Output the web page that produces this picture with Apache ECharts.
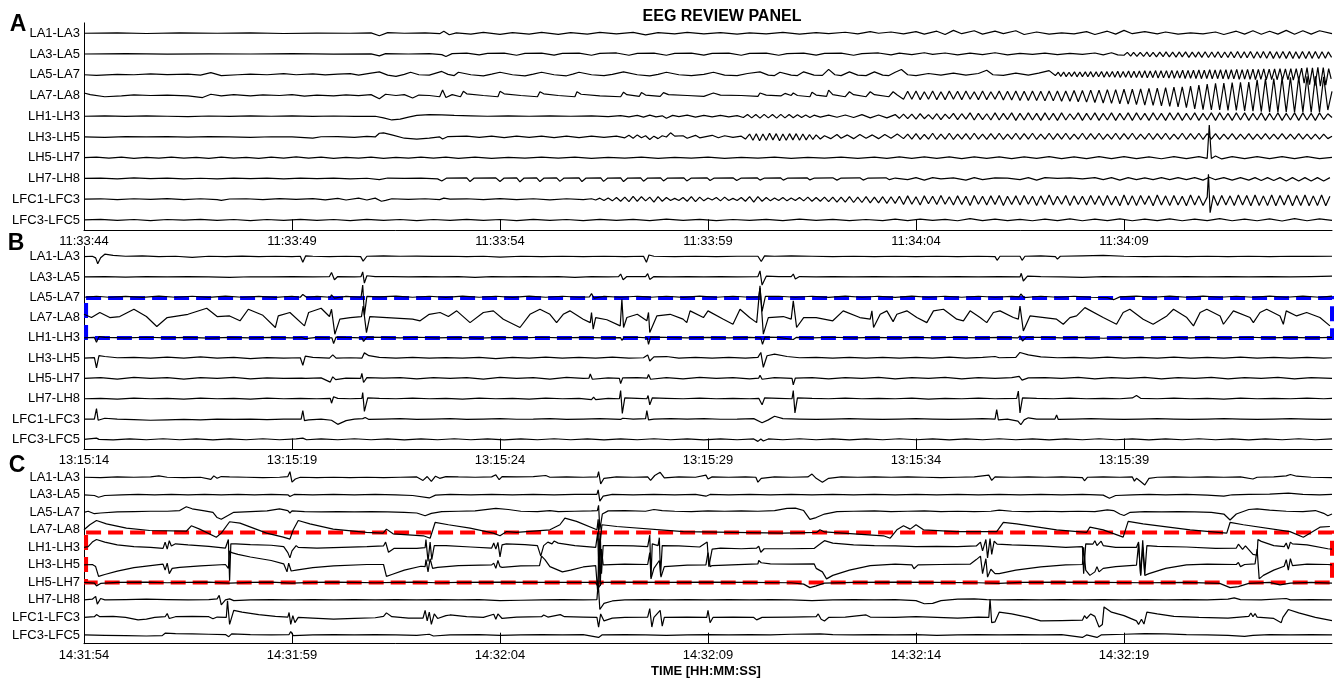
<!DOCTYPE html>
<html><head><meta charset="utf-8">
<script src="https://cdn.jsdelivr.net/npm/echarts@6/dist/echarts.min.js"></script>
<style>html,body{margin:0;padding:0;background:#fff}#c{width:1342px;height:679px}</style>
</head><body><div id="c"></div>
<script>
// ---------- labels ----------
const channels = ['LA1-LA3','LA3-LA5','LA5-LA7','LA7-LA8','LH1-LH3','LH3-LH5','LH5-LH7','LH7-LH8','LFC1-LFC3','LFC3-LFC5'];
const ticksA = ['11:33:44','11:33:49','11:33:54','11:33:59','11:34:04','11:34:09'];
const ticksB = ['13:15:14','13:15:19','13:15:24','13:15:29','13:15:34','13:15:39'];
const ticksC = ['14:31:54','14:31:59','14:32:04','14:32:09','14:32:14','14:32:19'];
const tickSeconds = [0,5,10,15,20,25];
// ---------- traces: [time s, amplitude (1/100 of channel spacing), ...] ----------
const A0 = [0,0, 0.8,2, 1.5,-1, 2.3,2, 3.2,0, 4,2, 4.8,-1, 5.6,1, 6.4,0, 6.9,2, 7.1,-12, 7.3,3, 7.7,0, 8.2,2, 8.55,-2, 8.65,10, 8.78,-7, 8.95,2, 9.3,-4, 9.6,4, 10,-5, 10.3,3, 10.7,-4, 11,4, 11.4,-5, 11.7,3, 12.1,-4, 12.4,4, 12.8,-3, 13.2,4, 13.5,-8, 13.8,3, 14.2,-3, 14.5,4, 14.9,-3, 15.3,3, 15.7,-4, 16,2, 16.4,-3, 16.8,4, 17.2,-4, 17.6,3, 17.9,-2, 18.3,5, 18.6,-3, 18.9,8, 19.1,0, 19.4,6, 19.7,-3, 20,8, 20.2,-4, 20.5,10, 20.7,-6, 20.9,14, 21.1,-2, 21.4,12, 21.6,-4, 21.9,10, 22.1,-2, 22.4,12, 22.6,-6, 22.9,6, 23.2,-4, 23.5,2, 23.8,-3, 24.1,8, 24.3,-6, 24.6,10, 24.8,-4, 25,14, 25.2,-2, 25.5,8, 25.8,-3, 26,6, 26.3,-4, 26.6,2, 26.9,-3, 27.2,6, 27.4,-6, 27.7,10, 27.9,-4, 28.1,12, 28.3,-5, 28.5,10, 28.7,-4, 28.9,14, 29.1,-5, 29.3,12, 29.5,-4, 29.7,12, 30,-2];
const A1 = [0,0, 1,2, 2,-1, 3,1, 4,0, 5,2, 6,-1, 6.9,1, 7.1,-9, 7.25,2, 7.8,0, 8.3,2, 8.6,-3, 8.7,-12, 8.85,2, 9.2,4, 9.5,-4, 9.7,3, 10.1,4, 10.4,-6, 10.6,3, 11,4, 11.3,-5, 11.5,3, 11.9,4, 12.2,-6, 12.4,3, 12.8,5, 13.1,-6, 13.3,3, 13.7,4, 14,-6, 14.2,3, 14.6,4, 14.9,-5, 15.1,3, 15.5,4, 15.8,-6, 16,3, 16.4,4, 16.7,-6, 16.9,2, 17.3,4, 17.6,-5, 17.8,3, 18.2,4, 18.5,-6, 18.7,2, 19.1,5, 19.4,-4, 19.6,4, 19.9,-3, 20.2,6, 20.4,-2, 20.7,5, 21,-4, 21.3,4, 21.6,-3, 21.9,6, 22.2,-4, 22.5,3, 22.8,-2, 23.1,4, 23.4,-3, 23.7,3, 24,-2, 24.3,5, 24.5,-4, 24.7,6, 24.85,-4, 25,-6, 25.08,8, 25.16,-10, 25.23,8, 25.31,-12, 25.39,8, 25.47,-12, 25.55,9, 25.62,-13, 25.7,8, 25.78,-14, 25.86,9, 25.94,-13, 26.01,10, 26.09,-14, 26.17,9, 26.25,-15, 26.33,10, 26.4,-14, 26.48,10, 26.56,-16, 26.64,9, 26.72,-15, 26.79,10, 26.87,-16, 26.95,11, 27.03,-17, 27.11,10, 27.18,-16, 27.26,11, 27.34,-18, 27.42,10, 27.5,-17, 27.57,11, 27.65,-18, 27.73,12, 27.81,-19, 27.89,11, 27.96,-18, 28.04,12, 28.12,-20, 28.2,11, 28.28,-19, 28.35,12, 28.43,-20, 28.51,12, 28.59,-21, 28.67,11, 28.74,-20, 28.82,12, 28.9,-21, 28.98,12, 29.06,-22, 29.13,11, 29.21,-21, 29.29,12, 29.37,-22, 29.45,12, 29.52,-21, 29.6,12, 29.68,-22, 29.76,11, 29.84,-20, 29.91,10, 29.99,-16];
const A2 = [0,0, 0.3,-3, 0.8,2, 1.2,0, 1.6,4, 2,1, 2.5,3, 2.8,-2, 3.05,10, 3.3,-4, 3.7,0, 4,3, 4.4,0, 4.8,5, 5.1,0, 5.5,4, 5.8,-1, 6.1,3, 6.4,5, 6.6,-2, 6.9,8, 7.1,14, 7.3,-2, 7.5,-8, 7.7,2, 7.85,12, 8.05,0, 8.3,-2, 8.6,16, 8.75,2, 8.9,-4, 9,12, 9.3,0, 9.6,-5, 9.8,3, 10,12, 10.3,0, 10.6,-5, 10.8,3, 11,12, 11.3,0, 11.6,-5, 11.75,3, 11.9,12, 12.2,0, 12.5,-4, 12.7,2, 12.97,14, 13.3,0, 13.6,-5, 13.8,2, 14,12, 14.3,0, 14.6,-4, 14.9,2, 15.13,12, 15.4,-2, 15.7,-4, 15.95,6, 16.25,14, 16.45,-2, 16.6,-4, 16.73,12, 17,-2, 17.15,-4, 17.3,14, 17.55,-2, 17.75,-3, 17.9,26, 18.05,0, 18.2,-4, 18.4,14, 18.6,-2, 18.8,-4, 19,14, 19.2,-2, 19.35,-4, 19.5,12, 19.65,25, 19.8,0, 20,-4, 20.3,6, 20.6,-2, 20.9,8, 21.2,-2, 21.5,6, 21.7,22, 21.85,0, 22.1,-3, 22.4,8, 22.7,-2, 22.95,8, 23.2,20, 23.35,-4, 23.42,12, 23.48,-8, 23.55,13, 23.61,-9, 23.68,12, 23.74,-8, 23.81,14, 23.87,-10, 23.94,13, 24,-9, 24.07,14, 24.13,-10, 24.2,15, 24.26,-11, 24.33,14, 24.39,-10, 24.46,16, 24.52,-12, 24.59,15, 24.65,-11, 24.72,16, 24.78,-12, 24.85,17, 24.91,-13, 24.98,16, 25.04,-12, 25.11,18, 25.17,-14, 25.24,17, 25.3,-13, 25.37,18, 25.43,-14, 25.5,19, 25.56,-15, 25.63,18, 25.69,-14, 25.76,20, 25.82,-16, 25.89,19, 25.95,-15, 26.02,20, 26.08,-16, 26.15,21, 26.21,-17, 26.28,20, 26.34,-16, 26.41,22, 26.47,-18, 26.54,21, 26.6,-17, 26.67,22, 26.73,-18, 26.8,23, 26.86,-19, 26.93,22, 26.99,-18, 27.06,24, 27.12,-20, 27.19,23, 27.25,-19, 27.32,24, 27.38,-20, 27.45,25, 27.51,-21, 27.58,24, 27.64,-20, 27.71,26, 27.77,-22, 27.84,25, 27.9,-21, 27.97,26, 28.03,-22, 28.1,27, 28.16,-23, 28.23,26, 28.29,-22, 28.36,28, 28.42,-24, 28.49,27, 28.55,-23, 28.62,28, 28.68,-24, 28.75,29, 28.81,-25, 28.88,28, 28.94,-24, 29.01,30, 29.07,-26, 29.14,29, 29.2,-25, 29.27,32, 29.33,-40, 29.4,34, 29.46,-48, 29.53,33, 29.59,-52, 29.66,36, 29.72,-55, 29.79,34, 29.85,-50, 29.92,30, 29.98,-20];
const A3 = [0,12, 0.15,4, 0.5,-6, 0.9,-2, 1.2,3, 1.6,0, 2,2, 2.5,-2, 2.85,-10, 3.05,6, 3.3,-2, 3.6,4, 4,-2, 4.3,3, 4.7,0, 5,4, 5.3,-3, 5.6,2, 6,-2, 6.3,3, 6.6,-1, 6.9,4, 7.1,-16, 7.25,6, 7.5,0, 7.7,4, 7.9,-12, 8.05,2, 8.3,0, 8.55,-6, 8.62,26, 8.7,-10, 8.85,4, 9.05,-6, 9.12,20, 9.2,8, 9.6,0, 9.95,-6, 10,20, 10.1,8, 10.5,0, 10.9,-6, 10.96,18, 11.05,8, 11.4,0, 11.8,-6, 11.85,18, 11.95,6, 12.4,-2, 12.9,-6, 12.97,16, 13.05,4, 13.35,-4, 13.4,14, 13.5,2, 13.85,-4, 13.93,14, 14.05,4, 14.5,0, 14.9,-4, 15.13,12, 15.3,2, 15.8,0, 16.2,-4, 16.25,12, 16.4,2, 16.75,-2, 16.85,10, 17,0, 17.05,12, 17.15,0, 17.45,-6, 17.5,16, 17.6,2, 17.85,-4, 17.9,26, 18,4, 18.3,-6, 18.4,18, 18.5,4, 18.8,-6, 18.9,18, 19,4, 19.35,-6, 19.45,18, 19.55,2, 19.7,-18, 19.8,20, 19.9,-18, 20,22, 20.1,-20, 20.2,18, 20.3,-18, 20.4,22, 20.5,-20, 20.6,18, 20.7,-20, 20.8,22, 20.9,-18, 21,20, 21.1,-20, 21.2,22, 21.3,-18, 21.4,18, 21.5,-20, 21.6,22, 21.7,-20, 21.8,18, 21.9,-18, 22,22, 22.1,-22, 22.2,20, 22.3,-22, 22.4,22, 22.5,-24, 22.6,20, 22.7,-24, 22.8,22, 22.9,-24, 23,20, 23.1,-26, 23.2,22, 23.3,-26, 23.4,22, 23.5,-28, 23.6,22, 23.7,-28, 23.8,24, 23.9,-30, 24,24, 24.1,-32, 24.2,26, 24.3,-34, 24.4,26, 24.5,-36, 24.6,28, 24.7,-38, 24.8,28, 24.9,-40, 25,30, 25.1,-42, 25.2,30, 25.3,-44, 25.4,32, 25.5,-46, 25.6,34, 25.7,-48, 25.8,36, 25.9,-50, 26,38, 26.1,-52, 26.2,40, 26.3,-55, 26.4,42, 26.5,-58, 26.6,45, 26.7,-65, 26.8,50, 26.9,-68, 27,55, 27.1,-70, 27.2,58, 27.3,-70, 27.4,60, 27.5,-72, 27.6,62, 27.7,-72, 27.8,64, 27.9,-74, 28,65, 28.1,-76, 28.2,75, 28.3,-78, 28.4,80, 28.5,-80, 28.6,82, 28.7,-80, 28.8,85, 28.9,-80, 29,88, 29.1,-82, 29.2,90, 29.3,-80, 29.4,92, 29.5,-82, 29.6,92, 29.7,-80, 29.8,90, 29.9,-70, 30,20];
const A4 = [0,0, 0.5,2, 1,-1, 1.5,2, 2,0, 2.5,-2, 3,1, 3.5,-1, 4,2, 4.5,0, 5,2, 5.5,-1, 6,1, 6.5,-1, 7,0, 7.2,-8, 7.4,-18, 7.6,-14, 7.8,-4, 8,4, 8.3,8, 8.6,7, 8.9,4, 9.3,2, 9.7,0, 10.2,2, 10.7,0, 11.2,2, 11.7,0, 12.2,2, 12.6,-2, 12.9,3, 13.1,-3, 13.3,4, 13.45,-4, 13.6,5, 13.75,-3, 13.9,2, 14,-10, 14.15,4, 14.3,-2, 14.5,5, 14.7,-4, 14.9,4, 15.1,-3, 15.3,4, 15.5,-3, 15.7,3, 15.85,-6, 15.95,8, 16.05,-8, 16.15,8, 16.25,-9, 16.35,9, 16.45,-8, 16.55,8, 16.65,-9, 16.75,9, 16.85,-8, 16.95,8, 17.05,-7, 17.15,7, 17.25,-6, 17.35,6, 17.45,-6, 17.55,5, 17.7,-4, 17.9,5, 18.1,-5, 18.3,6, 18.5,-6, 18.7,8, 18.9,-8, 19.1,6, 19.3,-8, 19.5,8, 19.6,-10, 19.7,10, 19.8,-12, 19.9,10, 20,-14, 20.1,12, 20.2,-12, 20.3,8, 20.4,-14, 20.5,12, 20.6,-16, 20.7,10, 20.8,-12, 20.9,14, 21,-16, 21.1,12, 21.2,-14, 21.3,16, 21.4,-18, 21.5,14, 21.6,-16, 21.7,12, 21.8,-18, 21.9,16, 22,-18, 22.1,14, 22.2,-16, 22.3,16, 22.4,-20, 22.5,14, 22.6,-18, 22.7,16, 22.8,-18, 22.9,14, 23,-20, 23.1,16, 23.2,-18, 23.3,14, 23.4,-20, 23.5,16, 23.6,-18, 23.7,12, 23.8,-16, 23.9,16, 24,-20, 24.1,14, 24.2,-18, 24.3,16, 24.4,-20, 24.5,14, 24.6,-18, 24.7,16, 24.8,-20, 24.9,14, 25,-18, 25.1,16, 25.2,-20, 25.3,16, 25.4,-18, 25.5,14, 25.6,-20, 25.7,16, 25.8,-18, 25.9,14, 26,-20, 26.1,16, 26.2,-18, 26.3,16, 26.4,-20, 26.5,14, 26.6,-18, 26.7,16, 26.8,-20, 26.9,14, 27,-18, 27.1,16, 27.2,-20, 27.3,16, 27.4,-18, 27.5,14, 27.6,-20, 27.7,16, 27.8,-18, 27.9,16, 28,-20, 28.1,14, 28.2,-18, 28.3,16, 28.4,-20, 28.5,14, 28.6,-18, 28.7,16, 28.8,-20, 28.9,14, 29,-18, 29.1,16, 29.2,-20, 29.3,16, 29.4,-18, 29.5,14, 29.6,-20, 29.7,16, 29.8,-16, 29.9,12, 30,-6];
const A5 = [0,0, 0.5,-2, 1,2, 1.5,0, 2,2, 2.5,-1, 3,2, 3.5,0, 4,-2, 4.5,1, 5,0, 5.5,-6, 5.7,1, 6.1,2, 6.5,-2, 6.8,3, 7,0, 7.1,18, 7.2,20, 7.4,10, 7.7,-6, 8,-10, 8.3,-6, 8.55,0, 8.62,-10, 8.75,2, 9.2,4, 9.5,-2, 9.8,4, 10.1,-3, 10.4,4, 10.7,-2, 11,4, 11.3,-3, 11.6,4, 11.9,-3, 12.2,4, 12.5,-2, 12.8,4, 13,-4, 13.1,8, 13.2,-6, 13.3,10, 13.4,-4, 13.5,6, 13.6,-12, 13.7,4, 13.8,-8, 13.9,6, 14,0, 14.1,20, 14.2,4, 14.4,6, 14.5,-6, 14.7,8, 14.8,-4, 14.95,2, 15.1,8, 15.25,-4, 15.4,6, 15.6,-2, 15.8,4, 15.9,-10, 16,14, 16.08,-16, 16.16,16, 16.24,-18, 16.32,14, 16.4,-16, 16.48,18, 16.56,-14, 16.64,16, 16.72,-18, 16.8,14, 16.88,-16, 16.96,16, 17.04,-14, 17.12,16, 17.2,-16, 17.28,14, 17.36,-14, 17.44,12, 17.52,-12, 17.6,10, 17.7,-10, 17.8,6, 17.95,-8, 18.1,12, 18.2,-6, 18.35,10, 18.5,-8, 18.65,12, 18.8,-6, 18.95,10, 19.1,-8, 19.25,12, 19.4,-6, 19.55,14, 19.7,-8, 19.8,14, 19.9,-10, 20,16, 20.1,-12, 20.2,12, 20.3,-10, 20.4,18, 20.5,-12, 20.6,14, 20.7,-10, 20.8,18, 20.9,-12, 21,14, 21.1,-10, 21.2,16, 21.3,-12, 21.4,18, 21.5,-10, 21.6,14, 21.7,-12, 21.8,16, 21.9,-10, 22,18, 22.1,-12, 22.2,14, 22.3,-10, 22.4,18, 22.5,-12, 22.6,16, 22.7,-10, 22.8,18, 22.9,-12, 23,14, 23.1,-10, 23.2,18, 23.3,-12, 23.4,16, 23.5,-10, 23.6,18, 23.7,-12, 23.8,14, 23.9,-10, 24,18, 24.1,-12, 24.2,16, 24.3,-10, 24.4,18, 24.5,-12, 24.6,14, 24.7,-10, 24.8,18, 24.9,-12, 25,16, 25.1,-10, 25.2,18, 25.3,-12, 25.4,14, 25.5,-10, 25.6,18, 25.7,-12, 25.8,16, 25.9,-10, 26,18, 26.1,-12, 26.2,14, 26.3,-10, 26.4,18, 26.5,-12, 26.6,16, 26.7,-10, 26.8,18, 26.9,-12, 27,16, 27.1,-10, 27.2,16, 27.3,-12, 27.4,14, 27.5,-10, 27.6,16, 27.7,-12, 27.8,14, 27.9,-10, 28,16, 28.1,-12, 28.2,14, 28.3,-10, 28.4,16, 28.5,-10, 28.6,14, 28.7,-10, 28.8,16, 28.9,-10, 29,14, 29.1,-10, 29.2,16, 29.3,-10, 29.4,14, 29.5,-10, 29.6,14, 29.7,-10, 29.8,14, 29.9,-8, 30,4];
const A6 = [0,0, 0.3,3, 0.6,-2, 0.9,3, 1.2,-3, 1.5,2, 1.8,-2, 2.1,3, 2.4,-2, 2.7,2, 3,-3, 3.3,3, 3.6,-2, 3.9,2, 4.2,-3, 4.5,3, 4.8,-2, 5.1,4, 5.4,-2, 5.7,3, 6,-3, 6.3,2, 6.6,-2, 6.9,3, 7.2,-3, 7.5,2, 7.8,-2, 8.1,3, 8.4,-2, 8.7,3, 9,-3, 9.4,3, 9.8,-3, 10.2,2, 10.6,-2, 11,3, 11.4,-2, 11.8,3, 12.2,-3, 12.6,2, 13,-2, 13.4,3, 13.8,-3, 14.2,2, 14.6,-2, 15,3, 15.4,-3, 15.8,2, 16.2,-2, 16.6,3, 17,-3, 17.4,2, 17.8,-2, 18.2,3, 18.6,-3, 19,3, 19.3,-3, 19.6,4, 19.9,-3, 20.2,4, 20.5,-3, 20.8,4, 21.1,-4, 21.4,4, 21.7,-3, 22,4, 22.3,-4, 22.6,4, 22.9,-3, 23.2,5, 23.5,-4, 23.8,4, 24.1,-4, 24.4,5, 24.7,-4, 25,5, 25.3,-4, 25.6,4, 25.9,-5, 26.2,5, 26.5,-4, 26.8,5, 27,-3, 27.05,158, 27.1,-4, 27.2,8, 27.35,-6, 27.6,5, 27.9,-4, 28.2,5, 28.5,-4, 28.8,5, 29.1,-4, 29.4,5, 29.7,-4, 30,2];
const A7 = [0,0, 0.4,2, 0.8,-2, 1.2,3, 1.6,-1, 2,2, 2.4,-2, 2.8,1, 3.2,-2, 3.6,2, 4,-1, 4.4,2, 4.8,-2, 5.2,2, 5.6,-1, 6,2, 6.4,-2, 6.8,1, 7.1,-6, 7.3,2, 7.7,0, 8.1,2, 8.5,-2, 8.6,-12, 8.72,2, 9.2,3, 9.28,-15, 9.38,2, 9.9,3, 10,-15, 10.1,2, 10.4,3, 10.48,-16, 10.58,2, 10.88,3, 10.96,-15, 11.06,2, 11.36,3, 11.44,-14, 11.54,2, 11.9,3, 11.97,-15, 12.07,2, 12.42,3, 12.49,-14, 12.59,2, 12.9,3, 12.97,-15, 13.07,2, 13.38,3, 13.45,-13, 13.55,2, 13.86,3, 13.93,-12, 14.03,2, 14.42,3, 14.49,-12, 14.6,2, 14.98,3, 15.05,-10, 15.15,2, 15.6,3, 15.69,-10, 15.8,2, 16.18,3, 16.25,-8, 16.36,2, 16.74,3, 16.81,-8, 16.92,2, 17.38,3, 17.45,-7, 17.56,2, 18,3, 18.1,-8, 18.2,2, 18.65,3, 18.73,-8, 18.85,2, 19.28,3, 19.36,-6, 19.5,2, 19.8,-6, 20,4, 20.2,-8, 20.4,4, 20.6,-2, 20.9,3, 21.2,-8, 21.4,4, 21.6,-6, 21.9,3, 22.2,2, 22.5,-6, 22.7,4, 22.9,-8, 23.1,4, 23.4,0, 23.7,3, 24,-2, 24.3,4, 24.5,-6, 24.7,4, 24.9,-8, 25.1,4, 25.3,-6, 25.5,3, 25.7,-6, 25.9,4, 26.1,-6, 26.3,4, 26.5,-6, 26.7,4, 26.9,-8, 27.05,6, 27.2,-6, 27.4,4, 27.6,-8, 27.8,4, 28,-8, 28.15,4, 28.3,-10, 28.45,4, 28.6,-10, 28.75,4, 28.9,-12, 29.05,4, 29.2,-12, 29.35,4, 29.5,-12, 29.65,4, 29.8,-12, 29.95,4];
const A8 = [0,0, 0.4,2, 0.8,-2, 1.2,2, 1.6,-1, 2,3, 2.4,-2, 2.8,2, 3.2,-2, 3.3,-6, 3.5,1, 3.9,2, 4.3,-2, 4.7,3, 5.1,-1, 5.5,3, 5.8,-3, 6.1,4, 6.3,-4, 6.6,5, 6.8,-4, 7,5, 7.15,-10, 7.25,-6, 7.4,2, 7.8,-1, 8.2,2, 8.55,-2, 8.65,5, 8.8,0, 9.2,2, 9.6,-2, 10,3, 10.4,-2, 10.8,2, 11.2,-3, 11.6,2, 12,-2, 12.2,2, 12.3,-4, 12.4,5, 12.5,-6, 12.6,6, 12.7,-8, 12.8,8, 12.9,-10, 13,10, 13.1,-12, 13.2,14, 13.3,-10, 13.4,12, 13.5,-8, 13.6,10, 13.7,-14, 13.8,12, 13.9,-10, 14,8, 14.1,-6, 14.2,4, 14.3,-6, 14.4,8, 14.5,-10, 14.6,12, 14.7,-12, 14.8,10, 14.9,-8, 15,6, 15.1,-4, 15.2,8, 15.3,-8, 15.4,10, 15.5,-6, 15.6,4, 15.7,-6, 15.8,8, 15.9,-10, 16,12, 16.1,-14, 16.2,12, 16.3,-10, 16.4,8, 16.5,-8, 16.6,6, 16.7,-6, 16.8,8, 16.9,-8, 17,6, 17.1,-6, 17.2,8, 17.3,-8, 17.4,10, 17.5,-10, 17.6,8, 17.7,-10, 17.8,10, 17.9,-12, 18,10, 18.1,-14, 18.2,10, 18.3,-14, 18.4,12, 18.5,-16, 18.6,10, 18.7,-16, 18.8,12, 18.9,-18, 19,10, 19.1,-18, 19.2,12, 19.3,-20, 19.4,12, 19.5,-20, 19.6,14, 19.7,-26, 19.8,16, 19.9,-24, 20,12, 20.1,-28, 20.2,16, 20.3,-22, 20.4,14, 20.5,-26, 20.6,18, 20.7,-24, 20.8,12, 20.9,-28, 21,16, 21.1,-26, 21.2,14, 21.3,-30, 21.4,18, 21.5,-24, 21.6,14, 21.7,-28, 21.8,16, 21.9,-26, 22,18, 22.1,-30, 22.2,14, 22.3,-26, 22.4,16, 22.5,-28, 22.6,18, 22.7,-24, 22.8,14, 22.9,-30, 23,16, 23.1,-26, 23.2,20, 23.3,-28, 23.4,14, 23.5,-24, 23.6,18, 23.7,-30, 23.8,16, 23.9,-26, 24,14, 24.1,-28, 24.2,18, 24.3,-26, 24.4,16, 24.5,-30, 24.6,18, 24.7,-28, 24.8,14, 24.9,-32, 25,20, 25.1,-28, 25.2,16, 25.3,-30, 25.4,18, 25.5,-26, 25.6,16, 25.7,-32, 25.8,20, 25.9,-28, 26,16, 26.1,-30, 26.2,18, 26.3,-28, 26.4,14, 26.5,-32, 26.6,20, 26.7,-28, 26.8,16, 26.9,-30, 27,10, 27.03,120, 27.07,-65, 27.15,18, 27.25,-30, 27.35,18, 27.45,-28, 27.55,16, 27.65,-30, 27.75,20, 27.85,-28, 27.95,18, 28.05,-32, 28.15,20, 28.25,-30, 28.35,16, 28.45,-30, 28.55,20, 28.65,-32, 28.75,18, 28.85,-28, 28.95,20, 29.05,-32, 29.15,18, 29.25,-30, 29.35,20, 29.45,-32, 29.55,16, 29.65,-30, 29.75,20, 29.85,-32, 29.95,14];
const A9 = [0,0, 0.4,3, 0.8,-2, 1.2,2, 1.6,-3, 2,2, 2.4,-1, 2.8,3, 3.2,-2, 3.6,2, 4,-3, 4.4,2, 4.8,-2, 5.2,3, 5.6,-2, 6,2, 6.4,-3, 6.8,3, 7.2,-2, 7.6,2, 8,-3, 8.4,2, 8.8,-2, 9.2,3, 9.6,-2, 10,2, 10.4,-3, 10.8,3, 11.2,-2, 11.6,2, 12,-3, 12.4,3, 12.8,-2, 13.2,3, 13.6,-3, 14,4, 14.4,-2, 14.8,3, 15.2,-3, 15.6,2, 16,-2, 16.4,3, 16.8,-3, 17.2,4, 17.6,-2, 18,3, 18.4,-3, 18.8,2, 19.2,-3, 19.5,4, 19.8,-3, 20.1,4, 20.4,-2, 20.7,3, 21,-4, 21.3,6, 21.6,-3, 21.9,4, 22.2,-3, 22.5,3, 22.8,-4, 23.1,4, 23.4,-3, 23.7,5, 24,-4, 24.3,4, 24.6,-3, 24.9,5, 25.2,-4, 25.5,4, 25.8,-3, 26.1,5, 26.4,-4, 26.7,4, 27,-3, 27.3,6, 27.6,-4, 27.9,4, 28.2,-4, 28.5,5, 28.8,-5, 29.1,6, 29.4,-4, 29.7,5, 30,-2];

const B0 = [0,0, 0.2,2, 0.28,-6, 0.33,-35, 0.4,-5, 0.5,12, 0.7,6, 1,2, 1.4,4, 1.8,0, 2.2,2, 2.6,-4, 3,2, 3.4,0, 3.8,3, 4.2,0, 4.6,2, 5,0, 5.2,2, 5.26,-28, 5.33,4, 5.5,2, 5.9,0, 6.3,2, 6.65,0, 6.71,-22, 6.8,2, 7.2,4, 7.6,2, 8,3, 8.4,1, 8.8,2, 9.2,0, 9.6,2, 10,-2, 10.5,2, 11,0, 11.5,2, 12,0, 12.5,2, 13,0, 13.45,2, 13.52,-28, 13.58,8, 13.7,2, 14.2,0, 14.7,2, 15.2,0, 15.7,2, 16.2,2, 16.28,-24, 16.36,4, 16.6,2, 17,4, 17.5,2, 18,0, 18.5,2, 19,0, 19.5,2, 20,0, 20.5,2, 21,0, 21.5,2, 21.9,0, 21.95,-18, 22.02,2, 22.5,2, 22.55,-18, 22.62,2, 23,4, 23.35,0, 23.4,-12, 23.47,2, 24,4, 24.5,6, 25,2, 25.5,0, 26,2, 26.5,0, 27,2, 27.5,0, 28,2, 28.5,0, 29,2, 29.5,1, 30,2];
const B1 = [0,0, 0.5,2, 1,-1, 1.5,2, 2,0, 2.5,2, 3,0, 3.5,-2, 4,1, 4.5,0, 5,2, 5.5,0, 5.9,2, 5.95,22, 6.02,-14, 6.1,2, 6.5,0, 6.66,2, 6.7,25, 6.74,-30, 6.8,6, 7,2, 7.4,2, 7.8,0, 8.2,2, 8.6,0, 9,2, 9.4,-2, 9.8,2, 10.2,0, 10.6,2, 11,0, 11.4,2, 11.8,-2, 12.2,2, 12.6,0, 12.85,2, 12.9,14, 12.96,-14, 13.05,2, 13.5,2, 13.55,16, 13.6,-12, 13.7,2, 14.1,0, 14.5,2, 14.9,0, 15.3,2, 15.7,0, 16.2,2, 16.25,30, 16.3,-40, 16.4,4, 16.7,2, 17,2, 17.05,14, 17.1,-10, 17.2,2, 17.6,0, 18,2, 18.5,0, 19,2, 19.5,0, 20,2, 20.5,0, 21,2, 21.5,0, 22,2, 22.5,0, 22.53,18, 22.58,-20, 22.68,4, 23,2, 23.5,0, 24,-2, 24.5,2, 25,0, 25.5,2, 26,0, 26.5,2, 27,0, 27.5,2, 28,0, 28.5,2, 29,0, 29.5,2, 30,4];
const B2 = [0,0, 0.3,5, 0.6,0, 1,4, 1.4,-1, 1.8,6, 2.2,0, 2.6,5, 3,-1, 3.4,6, 3.8,0, 4.2,4, 4.6,-1, 5,5, 5.2,0, 5.26,14, 5.35,0, 5.6,4, 5.92,0, 5.95,12, 6.02,-4, 6.3,4, 6.66,0, 6.7,60, 6.74,-90, 6.8,4, 7.1,2, 7.5,6, 7.9,0, 8.3,5, 8.7,-1, 9.1,6, 9.5,0, 9.9,5, 10.3,-1, 10.7,6, 11.1,0, 11.5,5, 11.9,0, 12.15,2, 12.2,18, 12.26,-4, 12.5,4, 12.9,0, 13.3,5, 13.55,2, 13.57,10, 13.62,0, 14,5, 14.4,-1, 14.8,6, 15.2,0, 15.6,5, 16,0, 16.22,2, 16.25,45, 16.3,-70, 16.38,4, 16.7,5, 17.1,0, 17.5,5, 17.9,-1, 18.3,6, 18.7,0, 19.1,5, 19.5,-1, 19.9,6, 20.3,0, 20.7,5, 21.1,0, 21.5,5, 21.9,0, 22.3,4, 22.48,2, 22.52,16, 22.6,-2, 23,5, 23.4,0, 23.8,5, 24.2,0, 24.6,-2, 24.75,-12, 24.9,2, 25.3,6, 25.7,0, 26.1,6, 26.5,0, 26.9,6, 27.3,0, 27.7,5, 28.1,0, 28.5,6, 28.9,0, 29.3,6, 29.7,0, 30,6];
const B3 = [0,16, 0.18,0, 0.38,25, 0.62,0, 0.86,5, 1.2,41, 1.5,5, 1.75,-44, 2,0, 2.5,16, 2.95,46, 3.2,5, 3.5,8, 3.75,-16, 3.95,41, 4.3,11, 4.6,-49, 4.67,8, 4.95,25, 5.3,-41, 5.4,25, 5.7,46, 5.9,5, 5.95,41, 6.03,-82, 6.15,-8, 6.4,0, 6.67,5, 6.71,57, 6.79,-74, 6.87,5, 7.9,-8, 8.08,-16, 8.3,16, 8.56,25, 8.76,5, 8.96,33, 9.28,-25, 9.6,25, 9.84,33, 10.08,-8, 10.48,-49, 10.72,16, 10.96,41, 11.2,16, 11.36,-25, 11.52,16, 11.68,33, 12,-8, 12.17,-25, 12.2,25, 12.24,-57, 12.3,0, 12.57,-11, 12.89,-41, 12.93,90, 12.97,-49, 13.05,0, 13.3,16, 13.53,-16, 13.57,25, 13.6,-74, 13.77,8, 14.09,16, 14.4,-8, 14.49,-25, 14.57,33, 14.89,0, 15,33, 15.37,-8, 15.6,-33, 15.77,41, 16,0, 16.17,-25, 16.25,156, 16.33,-82, 16.45,0, 16.81,5, 17,-8, 17.05,82, 17.13,-49, 17.3,0, 17.6,0, 18,-16, 18.25,33, 18.65,0, 18.9,-8, 18.94,33, 18.98,-49, 19.14,16, 19.3,33, 19.45,-20, 19.54,16, 19.78,33, 20.02,0, 20.26,-25, 20.42,33, 20.66,41, 20.98,-8, 21.14,-16, 21.3,33, 21.54,0, 21.7,-25, 21.86,25, 22.02,33, 22.34,0, 22.46,-8, 22.5,57, 22.58,-66, 22.74,8, 23.38,-8, 23.54,-33, 23.7,0, 23.86,8, 24.06,49, 24.5,0, 24.82,-33, 24.98,25, 25.14,41, 25.46,-8, 25.7,-33, 26.03,8, 26.19,41, 26.51,0, 26.67,-41, 26.83,25, 26.99,41, 27.31,8, 27.39,-33, 27.63,33, 28.03,0, 28.11,-25, 28.27,25, 28.43,41, 28.75,8, 28.83,-33, 28.9,33, 29.15,8, 29.39,25, 29.71,0, 29.95,-41];
const B4 = [0,0, 0.25,2, 0.3,-22, 0.36,6, 0.5,2, 1,0, 1.5,3, 2,0, 2.5,2, 3,-1, 3.5,2, 4,0, 4.5,2, 5,0, 5.23,2, 5.27,10, 5.32,-4, 5.6,2, 5.96,0, 6,-28, 6.06,4, 6.3,2, 6.68,0, 6.72,-18, 6.8,4, 7.2,2, 7.6,0, 8,3, 8.5,0, 9,2, 9.5,-1, 10,2, 10.5,0, 11,3, 11.5,0, 12,2, 12.5,0, 12.9,1, 12.93,-12, 12.98,2, 13.3,3, 13.54,0, 13.57,-32, 13.62,4, 14,2, 14.5,0, 15,2, 15.5,0, 16,2, 16.27,0, 16.31,-32, 16.37,4, 16.7,2, 17.05,-8, 17.12,2, 17.5,0, 18,3, 18.5,0, 19,2, 19.5,0, 20,2, 20.5,0, 21,3, 21.5,0, 22,2, 22.45,0, 22.5,10, 22.56,-16, 22.65,2, 23,3, 23.5,0, 24,2, 24.5,-2, 25,2, 25.5,0, 26,3, 26.5,0, 27,2, 27.5,0, 28,3, 28.5,0, 29,2, 29.5,0, 30,2];
const B5 = [0,0, 0.25,3, 0.3,-48, 0.36,12, 0.5,8, 0.8,2, 1.2,4, 1.6,0, 2,5, 2.4,0, 2.8,6, 3.2,0, 3.6,4, 4,-2, 4.4,3, 4.8,0, 5.2,2, 5.26,-35, 5.32,10, 5.5,4, 5.9,0, 5.98,16, 6.06,0, 6.4,2, 6.68,0, 6.74,26, 6.85,12, 7.1,4, 7.5,0, 7.9,4, 8.3,0, 8.7,3, 9.1,0, 9.5,4, 9.9,-2, 10.3,4, 10.7,0, 11.1,5, 11.5,0, 11.9,4, 12.3,0, 12.7,5, 13.1,0, 13.45,2, 13.55,16, 13.6,-14, 13.7,6, 14,8, 14.3,0, 14.7,4, 15.1,0, 15.5,4, 15.9,0, 16.2,4, 16.27,28, 16.33,-45, 16.42,12, 16.6,20, 16.9,8, 17.2,2, 17.6,4, 18,0, 18.4,4, 18.8,0, 19.2,4, 19.6,0, 20,4, 20.4,0, 20.8,5, 21.2,0, 21.6,4, 21.9,8, 22,2, 22.4,4, 22.5,28, 22.7,16, 23,6, 23.4,2, 23.8,4, 24.2,0, 24.6,5, 25,0, 25.4,4, 25.8,0, 26.2,5, 26.6,0, 27,4, 27.4,0, 27.8,5, 28.2,0, 28.6,4, 29,0, 29.4,4, 29.8,0, 30,2];
const B6 = [0,0, 0.4,4, 0.8,-3, 1.2,5, 1.6,0, 2,4, 2.4,-3, 2.8,4, 3.2,0, 3.6,5, 4,-2, 4.4,3, 4.8,0, 5.23,2, 5.27,10, 5.33,0, 5.7,3, 5.92,-18, 5.98,8, 6.05,-6, 6.3,2, 6.65,0, 6.68,25, 6.72,-20, 6.8,4, 7.2,2, 7.6,4, 8,-2, 8.4,4, 8.8,0, 9.2,4, 9.6,-3, 10,5, 10.4,0, 10.8,4, 11.2,-3, 11.6,5, 12,0, 12.14,2, 12.17,22, 12.22,-4, 12.6,3, 12.87,0, 12.9,-25, 12.95,3, 13.3,4, 13.54,2, 13.57,20, 13.62,-4, 14,4, 14.4,-2, 14.8,5, 15.2,0, 15.6,4, 16,-2, 16.22,2, 16.25,16, 16.3,-4, 16.6,4, 17.02,0, 17.05,-32, 17.1,2, 17.5,4, 17.9,-2, 18.3,4, 18.7,0, 19.1,5, 19.5,-2, 19.9,4, 20.3,0, 20.7,5, 21.1,-2, 21.5,4, 21.9,0, 22.3,4, 22.48,10, 22.55,-8, 22.7,3, 23.1,4, 23.5,0, 23.9,5, 24.3,-2, 24.7,4, 25.1,0, 25.5,5, 25.9,-2, 26.3,4, 26.7,0, 27.1,5, 27.5,-2, 27.9,4, 28.3,0, 28.7,5, 29.1,-2, 29.5,4, 30,0];
const B7 = [0,0, 0.4,2, 0.8,-2, 1.2,3, 1.6,0, 2,2, 2.4,-2, 2.8,3, 3.2,0, 3.6,2, 4,-2, 4.4,3, 4.8,0, 5.2,2, 5.6,0, 5.92,2, 5.95,-22, 6,10, 6.1,2, 6.4,0, 6.68,2, 6.7,30, 6.74,-62, 6.82,4, 7.1,2, 7.5,0, 7.9,3, 8.3,0, 8.7,2, 9.1,-2, 9.5,3, 9.9,0, 10.3,2, 10.7,-2, 11.1,3, 11.5,0, 11.9,2, 12.2,-4, 12.25,8, 12.3,-4, 12.6,2, 12.87,0, 12.9,40, 12.94,-72, 13,4, 13.3,2, 13.53,0, 13.56,16, 13.6,-30, 13.66,4, 14,2, 14.4,0, 14.8,3, 15.2,0, 15.6,2, 16,0, 16.22,2, 16.25,10, 16.3,-30, 16.36,4, 16.7,2, 17.02,0, 17.05,40, 17.09,-70, 17.15,4, 17.5,2, 17.9,0, 18.3,3, 18.7,0, 19.1,2, 19.5,0, 19.9,3, 20.3,-2, 20.7,2, 21.1,0, 21.5,3, 21.9,0, 22.42,2, 22.46,38, 22.5,-70, 22.56,4, 22.9,2, 23.3,0, 23.7,3, 24.1,0, 24.5,2, 24.9,0, 25.2,4, 25.3,16, 25.4,2, 25.8,0, 26.2,3, 26.6,0, 27,2, 27.4,-2, 27.8,3, 28.2,0, 28.6,2, 29,0, 29.4,3, 29.8,0, 30,2];
const B8 = [0,0, 0.25,0, 0.3,52, 0.34,-6, 0.5,4, 0.8,0, 1.2,-3, 1.6,-6, 2,-4, 2.4,-2, 2.8,-4, 3.2,0, 3.6,-2, 4,0, 4.4,-3, 4.8,0, 5.22,0, 5.26,42, 5.3,-8, 5.4,-4, 5.7,0, 5.95,-6, 6.1,-26, 6.3,-8, 6.5,0, 6.7,2, 6.76,8, 6.85,-2, 7.2,0, 7.6,2, 8,-2, 8.4,0, 8.8,2, 9.2,-2, 9.6,0, 10,2, 10.4,-1, 10.8,0, 11.2,2, 11.6,-2, 12,0, 12.4,2, 12.9,-2, 12.95,4, 13.2,0, 13.5,2, 13.53,42, 13.57,-4, 13.7,0, 14.1,2, 14.5,0, 14.9,2, 15.3,-1, 15.7,0, 16.1,2, 16.3,-18, 16.45,-4, 16.6,14, 16.8,2, 17.2,0, 17.6,-2, 18,0, 18.4,2, 18.8,0, 19.2,-2, 19.6,0, 20,2, 20.4,0, 20.8,-2, 21.2,0, 21.6,2, 21.9,0, 21.94,46, 21.98,-4, 22.2,0, 22.45,-10, 22.52,-28, 22.6,-4, 22.7,6, 22.9,0, 23.34,0, 23.38,20, 23.42,-2, 23.8,0, 24.2,2, 24.6,0, 25,-2, 25.4,0, 25.8,2, 26.2,0, 26.6,-2, 27,0, 27.4,2, 27.8,0, 28.2,-2, 28.6,0, 29,2, 29.4,0, 29.8,-2, 30,0];
const B9 = [0,0, 0.3,6, 0.36,0, 0.7,-3, 1.1,2, 1.5,-2, 1.9,3, 2.3,-2, 2.7,2, 3.1,-3, 3.5,2, 3.9,-2, 4.3,3, 4.7,-2, 5.1,2, 5.26,6, 5.35,-2, 5.7,2, 6.1,-2, 6.5,3, 6.9,-2, 7.3,2, 7.7,-3, 8.1,2, 8.5,-2, 8.9,3, 9.3,-2, 9.7,2, 10.1,-3, 10.5,2, 10.9,-2, 11.3,3, 11.7,-2, 12.1,2, 12.5,-3, 12.9,2, 13.3,-2, 13.7,3, 14.1,-2, 14.5,2, 14.9,-3, 15.3,2, 15.7,-2, 16.1,2, 16.2,-10, 16.27,2, 16.33,-8, 16.45,2, 16.8,-2, 17.2,3, 17.6,-2, 18,2, 18.4,-3, 18.8,2, 19.2,-2, 19.6,3, 20,-2, 20.4,2, 20.8,-3, 21.2,2, 21.6,-2, 22,3, 22.4,-2, 22.8,2, 23.2,-3, 23.6,2, 24,-2, 24.4,3, 24.8,-2, 25.2,2, 25.6,-3, 26,2, 26.4,-2, 26.8,3, 27.2,-2, 27.6,2, 28,-3, 28.4,2, 28.8,-2, 29.2,3, 29.6,-2, 30,2];

const C0 = [0,0, 0.4,-2, 0.8,2, 1.2,0, 1.6,2, 1.8,8, 2,0, 2.4,-2, 2.8,0, 3.05,-12, 3.12,8, 3.2,-6, 3.3,4, 3.5,2, 3.9,0, 4.3,-2, 4.7,0, 4.9,4, 4.95,32, 5,-28, 5.08,-10, 5.2,0, 5.6,-2, 6,0, 6.4,-2, 6.8,0, 7.2,-2, 7.6,0, 8,2, 8.15,-18, 8.25,4, 8.35,-24, 8.45,6, 8.55,-6, 8.7,4, 9,2, 9.4,0, 9.8,2, 9.9,14, 9.98,-14, 10.05,4, 10.4,2, 10.8,4, 11.1,10, 11.2,0, 11.6,2, 12,0, 12.34,2, 12.37,32, 12.42,-38, 12.5,-6, 12.8,2, 13.2,0, 13.55,2, 13.62,-18, 13.72,10, 13.85,28, 13.95,-4, 14.3,2, 14.7,0, 14.95,12, 15,-10, 15.1,2, 15.5,0, 15.9,2, 16.15,0, 16.2,-28, 16.28,-6, 16.6,2, 17,0, 17.4,2, 17.5,18, 17.6,-6, 17.75,-28, 17.9,-6, 18.2,2, 18.6,0, 19,2, 19.4,0, 19.8,2, 20.2,0, 20.6,-2, 21,0, 21.4,2, 21.75,12, 21.82,-18, 21.9,2, 22.3,0, 22.7,2, 23.1,0, 23.5,2, 24,-2, 24.05,-20, 24.12,0, 24.5,2, 24.9,0, 25.2,2, 25.25,-22, 25.3,-6, 25.4,-24, 25.5,-44, 25.6,-6, 25.8,0, 26.2,2, 26.6,0, 27,2, 27.4,0, 27.8,2, 28.1,-10, 28.2,0, 28.6,2, 28.9,8, 29,16, 29.15,6, 29.5,0, 30,-2];
const C1 = [0,0, 0.25,-4, 0.35,-14, 0.5,-4, 0.9,0, 1.3,2, 1.7,0, 2.1,2, 2.5,0, 2.9,2, 3.3,0, 3.7,2, 4.1,0, 4.5,2, 4.9,0, 4.95,-10, 5.05,2, 5.5,0, 6,2, 6.5,0, 7,2, 7.5,0, 7.9,-4, 8.3,-18, 8.45,-2, 8.8,2, 9.3,0, 9.8,2, 10.3,0, 10.8,2, 11.3,0, 11.8,2, 12.33,2, 12.36,28, 12.4,-36, 12.48,-8, 12.7,2, 13.2,0, 13.7,2, 14.2,0, 14.7,2, 14.95,-8, 15.05,2, 15.5,0, 16,2, 16.5,0, 17,2, 17.5,0, 18,2, 18.5,0, 19,2, 19.5,0, 20,2, 20.5,0, 21,2, 21.5,0, 22,2, 22.5,0, 23,2, 23.5,0, 24,2, 24.5,-2, 24.65,-20, 24.8,-4, 25.2,0, 25.6,2, 26,0, 26.5,2, 27,-2, 27.4,-8, 27.6,0, 28,2, 28.5,4, 28.95,10, 29.3,2, 29.7,0, 30,2];
const C2 = [0,0, 0.1,6, 0.25,-8, 0.4,-4, 0.8,2, 1.2,4, 1.6,6, 2,6, 2.3,10, 2.46,32, 2.6,20, 2.9,8, 3.1,0, 3.2,-30, 3.3,-40, 3.45,-20, 3.6,0, 4,4, 4.4,8, 4.7,20, 4.9,10, 4.95,-4, 5,8, 5.3,4, 5.7,2, 6.1,4, 6.5,2, 6.9,4, 7.3,2, 7.7,0, 8,-4, 8.2,-20, 8.35,-6, 8.6,4, 9,6, 9.4,8, 9.9,22, 10.2,16, 10.5,6, 10.9,4, 11.2,10, 11.4,4, 11.8,6, 12.2,8, 12.34,10, 12.37,40, 12.4,-100, 12.46,-10, 12.6,8, 13,10, 13.5,6, 13.7,16, 13.9,10, 14.2,6, 14.6,4, 15,8, 15.4,6, 15.8,8, 16.2,6, 16.6,10, 16.9,22, 17.1,24, 17.3,10, 17.45,-40, 17.6,-30, 17.8,-10, 18.1,4, 18.5,6, 19,8, 19.4,4, 19.8,6, 20.2,8, 20.6,4, 21,6, 21.4,4, 21.8,6, 22,12, 22.3,6, 22.7,4, 23.1,6, 23.5,4, 23.9,6, 24.3,4, 24.6,14, 24.75,10, 24.9,-10, 25,-18, 25.15,0, 25.5,4, 25.9,2, 26.3,4, 26.7,2, 27.1,0, 27.4,-10, 27.55,-44, 27.7,-10, 28,16, 28.2,20, 28.5,12, 28.9,6, 29.3,4, 29.6,10, 29.8,-6, 29.9,-20, 30,-10];
const C3 = [0,0, 0.14,29, 0.3,53, 0.54,34, 1.02,10, 1.58,-4, 2.46,-8, 2.58,23, 2.78,4, 3.18,-42, 3.3,-19, 3.5,46, 3.75,38, 4.39,-19, 4.79,-42, 4.95,-53, 5.03,0, 5.15,53, 5.43,34, 5.99,4, 6.79,-15, 7.19,-19, 7.27,4, 7.43,-23, 8.16,-34, 8.32,-48, 8.44,42, 8.76,29, 9.28,10, 9.84,-19, 10,-34, 10.16,-10, 10.4,-15, 11.2,0, 11.44,29, 11.56,67, 11.84,48, 12.33,0, 12.36,60, 12.39,-120, 12.45,29, 12.81,19, 14.41,-10, 16.81,-19, 17.61,-15, 17.69,0, 17.8,-12, 19.22,-34, 19.38,-48, 19.54,0, 19.7,23, 19.86,4, 20,29, 20.18,0, 20.98,-10, 21.94,-10, 22.1,42, 22.42,34, 23.38,0, 24.1,-15, 24.18,15, 24.5,0, 24.98,-42, 25.1,48, 25.46,34, 26.59,0, 27.47,-19, 27.55,42, 27.87,29, 28.99,-10, 29.31,-42, 29.71,15, 29.95,19];
const C4 = [0,0, 0.1,4, 0.2,30, 0.3,45, 0.5,30, 0.8,14, 1.2,4, 1.6,0, 1.9,-6, 1.95,30, 2,-10, 2.05,38, 2.1,8, 2.2,20, 2.5,14, 3,6, 3.4,-4, 3.47,45, 3.5,-190, 3.53,20, 3.65,20, 4,16, 4.5,12, 4.8,4, 4.9,-30, 4.95,-60, 5,-20, 5.1,10, 5.15,0, 5.6,-4, 6.2,0, 6.8,4, 7.2,8, 7.25,30, 7.32,-28, 7.45,-6, 8,-6, 8.2,-2, 8.22,45, 8.27,-80, 8.32,30, 8.36,-70, 8.42,10, 8.7,10, 9.3,2, 9.8,-4, 9.85,25, 9.9,-10, 9.95,28, 10,-55, 10.05,14, 10.15,20, 10.6,16, 10.9,10, 10.98,-50, 11.05,10, 11.15,30, 11.25,20, 11.3,36, 11.4,24, 11.8,10, 12.3,0, 12.35,85, 12.38,-200, 12.41,80, 12.44,-150, 12.48,10, 12.8,10, 13.2,8, 13.55,4, 13.6,70, 13.63,-170, 13.66,20, 13.8,10, 13.83,55, 13.86,-160, 13.9,10, 14.3,8, 14.8,2, 14.98,30, 15.02,-110, 15.1,-10, 15.3,-4, 15.8,-8, 16.17,-4, 16.22,6, 16.27,-28, 16.35,-8, 17,-8, 17.55,-6, 17.7,20, 17.8,38, 18,24, 18.5,14, 19,10, 19.5,8, 20,4, 20.5,6, 21,4, 21.45,8, 21.55,30, 21.6,-20, 21.68,45, 21.72,-60, 21.78,50, 21.82,-40, 21.88,35, 21.95,18, 22.3,14, 23,8, 23.6,0, 24,4, 24.03,-150, 24.08,20, 24.25,18, 24.3,38, 24.35,10, 24.45,35, 24.5,10, 24.8,0, 25.3,0, 25.35,30, 25.4,-160, 25.45,40, 25.5,-150, 25.55,10, 25.8,6, 26.5,2, 27.2,-6, 27.7,-4, 27.75,18, 27.85,-12, 27.92,8, 28.1,-40, 28.2,-45, 28.22,45, 28.3,34, 28.6,10, 28.85,4, 28.9,25, 28.95,-10, 29,30, 29.05,20, 29.4,14, 29.9,-8, 30,-10];
const C5 = [0,0, 0.2,2, 0.28,-10, 0.35,-66, 0.5,-55, 0.8,-36, 1.2,-16, 1.6,-4, 1.9,4, 1.95,-30, 2,10, 2.05,-50, 2.12,-20, 2.3,-14, 2.8,-6, 3.4,2, 3.47,-20, 3.5,80, 3.55,70, 3.7,60, 4,45, 4.5,25, 4.8,6, 4.88,-40, 4.92,10, 4.98,-35, 5.1,-30, 5.5,-16, 6,-6, 6.8,2, 7.2,2, 7.27,-66, 7.4,-55, 7.7,-30, 8.1,-8, 8.2,-10, 8.22,30, 8.27,-40, 8.32,35, 8.38,-20, 8.5,-14, 9,-4, 9.8,0, 9.85,10, 9.9,-20, 9.95,25, 10,-10, 10.05,-14, 10.5,-6, 10.95,-4, 11,50, 11.08,30, 11.2,-10, 11.5,-40, 11.7,-30, 12,-12, 12.3,-4, 12.35,-160, 12.38,150, 12.41,-120, 12.44,90, 12.48,0, 13,4, 13.55,2, 13.6,70, 13.63,-80, 13.7,-20, 13.83,25, 13.87,-70, 13.95,-10, 14.5,-2, 14.95,0, 15,70, 15.05,-10, 15.1,-4, 16.2,6, 16.22,25, 16.28,12, 16.5,6, 17,4, 17.55,6, 17.6,-20, 17.75,-40, 17.85,-80, 18,-60, 18.4,-30, 18.9,-4, 19.5,4, 19.9,0, 19.95,-22, 20.05,0, 20.6,2, 21.3,4, 21.45,30, 21.55,50, 21.6,-50, 21.68,35, 21.72,-70, 21.8,-25, 21.9,-50, 22,-50, 22.4,-30, 23,-12, 23.6,0, 24,2, 24.03,100, 24.08,-30, 24.18,-60, 24.3,-40, 24.35,-10, 24.4,-40, 24.5,-20, 24.8,-10, 25.3,-2, 25.35,120, 25.4,-60, 25.45,100, 25.5,-60, 25.6,-50, 26,-20, 26.5,0, 27,4, 27.7,2, 27.75,14, 27.8,-10, 27.9,2, 28.15,6, 28.2,90, 28.25,-80, 28.35,-60, 28.6,-30, 28.85,-8, 28.9,30, 28.95,-30, 29,36, 29.05,-4, 29.4,4, 29.9,2, 30,0];
const C6 = [0,0, 0.25,-4, 0.3,-20, 0.4,-6, 0.8,0, 1.5,2, 2,-2, 2.5,0, 3,2, 3.5,-4, 4,0, 4.5,2, 5,-4, 5.5,0, 6,2, 6.5,0, 7,-2, 7.5,0, 8,2, 8.5,-2, 9,0, 10,2, 11,0, 12.3,0, 12.37,-30, 12.45,0, 13,2, 14,0, 15,2, 16,0, 17,-2, 17.3,-10, 17.45,-30, 17.6,-20, 17.8,-4, 18.5,0, 19.5,2, 20.5,0, 21.5,-2, 22,-6, 22.5,0, 23.5,2, 24.5,0, 25.5,-2, 26.5,0, 27.3,-6, 27.55,-30, 27.75,-24, 28,-6, 28.5,0, 28.75,-14, 29,-4, 29.5,0, 30,-4];
const C7 = [0,0, 0.2,4, 0.28,20, 0.32,-24, 0.4,8, 0.5,0, 1,2, 1.5,4, 2,2, 2.5,0, 3,2, 3.2,6, 3.25,26, 3.3,-28, 3.4,0, 3.5,6, 3.6,-4, 4,0, 4.5,2, 5,0, 5.5,2, 6,0, 6.5,2, 7,0, 7.5,2, 8,0, 8.5,2, 9,0, 9.5,2, 10,-4, 10.5,-2, 11,0, 11.5,2, 12,0, 12.33,2, 12.36,100, 12.4,-55, 12.5,-20, 12.7,-6, 13,0, 13.5,2, 14,0, 14.5,2, 15,0, 15.5,2, 16,0, 16.5,2, 17,0, 17.5,-4, 18,0, 18.5,2, 19,0, 19.5,2, 20,-4, 20.2,-22, 20.4,-20, 20.6,-4, 21,4, 21.4,6, 21.7,2, 22,0, 22.5,2, 23,0, 23.5,2, 24,0, 24.5,2, 25,0, 25.5,2, 26,0, 26.5,2, 27,0, 27.5,4, 27.65,12, 27.8,2, 28.3,0, 28.9,8, 29,0, 29.5,2, 30,0];
const C8 = [0,0, 0.25,4, 0.3,16, 0.38,4, 0.7,6, 1,0, 1.3,-14, 1.5,-10, 1.7,0, 1.95,4, 2,22, 2.05,-6, 2.2,4, 2.6,6, 3,4, 3.1,-8, 3.2,2, 3.42,0, 3.45,95, 3.5,-40, 3.55,0, 3.6,40, 3.8,30, 4.2,16, 4.6,6, 4.9,2, 4.93,28, 4.97,-40, 5.02,10, 5.07,-30, 5.15,0, 5.5,-4, 6,-10, 6.5,-6, 7,-2, 7.2,6, 7.27,26, 7.4,4, 7.8,-4, 8.15,-4, 8.2,40, 8.25,-20, 8.3,30, 8.35,-40, 8.42,20, 8.5,-6, 8.7,10, 8.8,14, 9.2,4, 9.6,0, 9.85,18, 9.9,-10, 9.95,20, 10.05,-6, 10.4,2, 11,4, 11.05,14, 11.15,2, 11.45,16, 11.55,4, 12,2, 12.33,0, 12.37,-55, 12.42,20, 12.5,-20, 12.7,-4, 13,0, 13.55,2, 13.6,50, 13.65,-55, 13.7,0, 13.85,40, 13.9,-50, 13.95,0, 14.5,2, 14.97,0, 15,40, 15.05,-30, 15.12,0, 15.6,2, 16.1,0, 16.17,-14, 16.3,0, 17,2, 17.6,4, 17.65,20, 17.72,-10, 17.8,-20, 17.9,0, 18.3,2, 18.8,14, 18.9,2, 19.5,0, 20,4, 20.5,0, 21,-4, 21.5,2, 21.75,0, 21.78,105, 21.82,-30, 21.9,-25, 22,30, 22.3,20, 22.7,0, 23,-20, 23.5,-18, 24,-16, 24.05,10, 24.1,-6, 24.2,20, 24.3,6, 24.4,-55, 24.48,-40, 24.52,60, 24.7,30, 25,10, 25.3,-20, 25.35,-40, 25.42,-10, 25.48,-38, 25.55,30, 25.8,20, 26.2,6, 26.8,0, 27.5,-4, 28,6, 28.05,25, 28.1,4, 28.15,22, 28.2,2, 28.6,-6, 28.78,-30, 28.82,0, 28.95,45, 29.2,26, 29.6,0, 30,-18];
const C9 = [0,0, 0.5,-2, 1,-4, 1.5,-6, 1.88,-4, 1.95,10, 2.2,8, 2.6,6, 3,4, 3.4,2, 3.48,-10, 3.55,6, 4,2, 4.5,0, 4.93,2, 4.97,20, 5.03,-4, 5.5,0, 6,2, 6.5,0, 7,2, 7.5,0, 8,-2, 8.3,4, 8.4,-6, 8.8,0, 9.5,2, 10,-2, 10.5,0, 11,2, 11.5,0, 12,2, 12.37,-14, 12.45,0, 13,2, 13.5,0, 14,-2, 14.5,0, 15,2, 15.5,0, 16,2, 16.5,0, 17,4, 17.7,6, 18,2, 18.5,0, 19,2, 19.5,0, 20,2, 20.5,-2, 21,0, 21.5,2, 22,0, 22.5,2, 23,0, 23.5,2, 24,-14, 24.1,0, 24.35,-14, 24.45,0, 25,4, 25.5,8, 26,6, 26.5,2, 27,0, 27.5,-2, 27.9,-8, 28.1,-2, 28.5,2, 29,0, 29.5,2, 30,0];

const panelTraces = [[A0,A1,A2,A3,A4,A5,A6,A7,A8,A9],[B0,B1,B2,B3,B4,B5,B6,B7,B8,B9],[C0,C1,C2,C3,C4,C5,C6,C7,C8,C9]];
const panelTicks = [ticksA, ticksB, ticksC];
// highlighted channel bands: [panel, lower value, upper value, colour]
const boxes = [[1, 4.99, 6.96, '#0000ff'], [2, 3.0, 5.84, '#ff0000']];

// ---------- build ----------
function build(arr, base){ const out=[]; for(let k=0;k<arr.length;k+=2) out.push([arr[k], base + arr[k+1]/100]); return out; }
const FONT = 'Arial, "Liberation Sans", sans-serif';
const grids = [
  {left:84, width:1248, top:22.9, height:207.4},
  {left:84, width:1248, top:246.5, height:203},
  {left:84, width:1248, top:468.5, height:175.2}
];
const labelMargins = [5,4,5];
const xAxis = [], yAxis = [], series = [];
for (let p=0;p<3;p++){
  xAxis.push({type:'value', gridIndex:p, min:0, max:30, interval:5,
    axisLine:{show:true, onZero:false, lineStyle:{color:'#000', width:1}},
    axisTick:{show:true, inside:true, length:11, lineStyle:{color:'#000', width:1}, customValues:tickSeconds},
    axisLabel:{show:true, color:'#000', fontSize:13, fontFamily:FONT, margin:labelMargins[p], customValues:tickSeconds,
      formatter:(v)=>{ const i=Math.round(v/5); return panelTicks[p][i]||''; }},
    splitLine:{show:false}});
  yAxis.push({type:'category', gridIndex:p, data:channels, inverse:true, position:'left',
    axisLine:{show:true, lineStyle:{color:'#000', width:1}}, axisTick:{show:false},
    axisLabel:{color:'#000', fontSize:13, fontFamily:FONT, margin:4}, splitLine:{show:false}});
  yAxis.push({type:'value', gridIndex:p, min:-0.5, max:9.5, show:false, position:'left', splitLine:{show:false}});
  panelTraces[p].forEach((arr,c)=>{
    series.push({type:'line', name:channels[c], xAxisIndex:p, yAxisIndex:2*p+1, data:build(arr, 9-c),
      symbol:'none', showSymbol:false, clip:false, silent:true, animation:false,
      lineStyle:{color:'#000', width:1.2}});
  });
}
boxes.forEach(([p, lo, hi, col])=>{
  series.push({type:'line', xAxisIndex:p, yAxisIndex:2*p+1, data:[], clip:false, silent:true, animation:false,
    markArea:{silent:true, itemStyle:{color:'rgba(0,0,0,0)', borderColor:col, borderWidth:4, borderType:[15,7]},
      data:[[{coord:[0.05, hi]},{coord:[30, lo]}]]}});
});
const chart = echarts.init(document.getElementById('c'), null, {renderer:'canvas'});
chart.setOption({
  animation:false, backgroundColor:'#fff',
  grid:grids, xAxis, yAxis, series,
  graphic:[
    {type:'text', x:722, y:17, style:{text:'EEG REVIEW PANEL', font:'bold 16px '+FONT, fill:'#000', align:'center', verticalAlign:'middle', textAlign:'center', textVerticalAlign:'middle'}},
    {type:'text', x:18, y:25, style:{text:'A', font:'bold 23px '+FONT, fill:'#000', align:'center', verticalAlign:'middle', textAlign:'center', textVerticalAlign:'middle'}},
    {type:'text', x:16, y:244, style:{text:'B', font:'bold 23px '+FONT, fill:'#000', align:'center', verticalAlign:'middle', textAlign:'center', textVerticalAlign:'middle'}},
    {type:'text', x:17, y:466, style:{text:'C', font:'bold 23px '+FONT, fill:'#000', align:'center', verticalAlign:'middle', textAlign:'center', textVerticalAlign:'middle'}},
    {type:'text', x:706, y:671, style:{text:'TIME [HH:MM:SS]', font:'bold 13px '+FONT, fill:'#000', align:'center', verticalAlign:'middle', textAlign:'center', textVerticalAlign:'middle'}}
  ]
});
</script></body></html>
